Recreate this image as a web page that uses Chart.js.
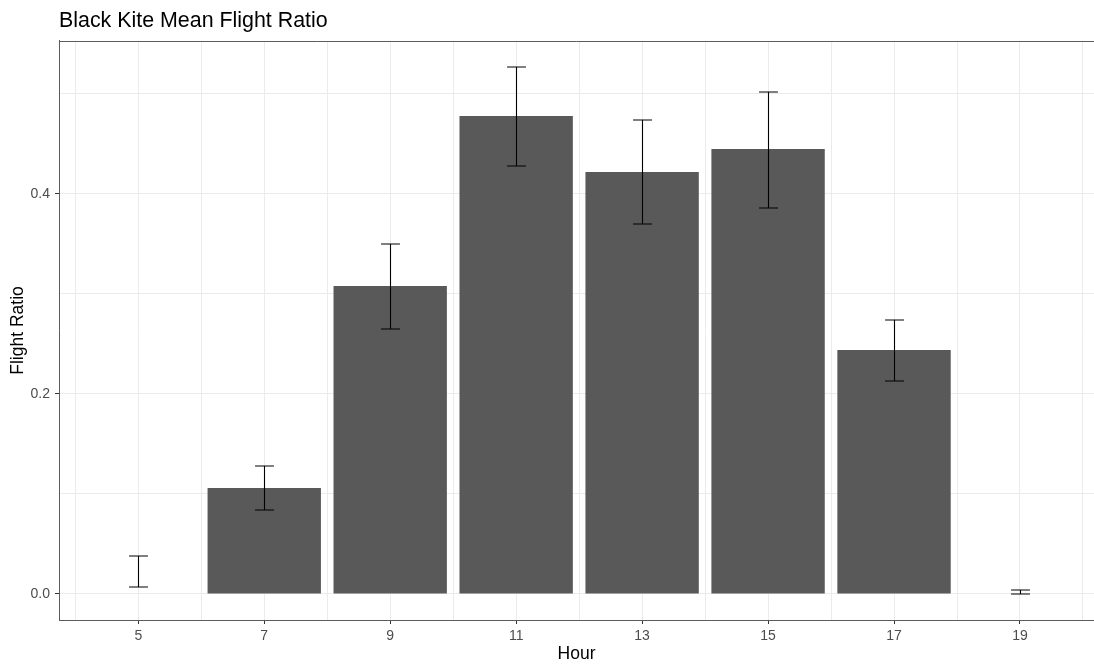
<!DOCTYPE html>
<html>
<head>
<meta charset="utf-8">
<script src="https://cdn.jsdelivr.net/npm/chart.js@4"></script>
<style>
  html, body { margin: 0; padding: 0; background: #ffffff; }
</style>
</head>
<body>
<canvas id="chart" width="1094" height="665"></canvas>
<script>
// data
const hours = [5, 7, 9, 11, 13, 15, 17, 19];
const meanRatio = [0, 0.106, 0.308, 0.478, 0.422, 0.445, 0.244, 0];
const errLow = [0.007, 0.084, 0.265, 0.428, 0.370, 0.386, 0.213, 0.000];
const errHigh = [0.038, 0.128, 0.350, 0.527, 0.474, 0.502, 0.274, 0.004];
const yTickLabels = ['0.0', '0.2', '0.4'];

const FONT = "'Liberation Sans', Arial, sans-serif";
const GRID = '#ebebeb';
const BORDER = '#5c5c5c';

// error bars + top panel border
const errorBarPlugin = {
    id: 'errorBars',
    afterDatasetsDraw(chart) {
        const ctx = chart.ctx;
        const xs = chart.scales.x;
        const ys = chart.scales.y;
        const capHalf = (xs.getPixelForValue(0.15) - xs.getPixelForValue(0));
        ctx.save();
        ctx.strokeStyle = '#000000';
        ctx.lineWidth = 1.1;
        hours.forEach((h, i) => {
            const x = Math.round(xs.getPixelForValue(h)) + 0.5;
            const y1 = ys.getPixelForValue(errLow[i]);
            const y2 = ys.getPixelForValue(errHigh[i]);
            ctx.beginPath();
            ctx.moveTo(x, y1);
            ctx.lineTo(x, y2);
            ctx.moveTo(x - capHalf, y1);
            ctx.lineTo(x + capHalf, y1);
            ctx.moveTo(x - capHalf, y2);
            ctx.lineTo(x + capHalf, y2);
            ctx.stroke();
        });
        ctx.restore();
    },
    afterDraw(chart) {
        const a = chart.chartArea;
        const ctx = chart.ctx;
        ctx.save();
        ctx.strokeStyle = BORDER;
        ctx.lineWidth = 1;
        ctx.beginPath();
        ctx.moveTo(a.left, Math.round(a.top) + 0.5);
        ctx.lineTo(a.right, Math.round(a.top) + 0.5);
        ctx.stroke();
        ctx.restore();
    }
};

new Chart(document.getElementById('chart'), {
    type: 'bar',
    data: {
        datasets: [{
            label: 'Flight Ratio',
            data: hours.map((h, i) => ({ x: h, y: meanRatio[i] })),
            backgroundColor: '#595959',
            borderWidth: 0,
            // ruler spacing is one hour (tick step), bars are 1.8 hours wide
            categoryPercentage: 1,
            barPercentage: 1.8
        }]
    },
    options: {
        responsive: false,
        animation: false,
        layout: { padding: 0 },
        plugins: {
            legend: { display: false },
            tooltip: { enabled: false },
            title: {
                display: true,
                text: 'Black Kite Mean Flight Ratio',
                align: 'start',
                fullSize: false,
                color: '#000000',
                font: { family: FONT, size: 21.4, weight: 'normal' },
                padding: { top: 8.2, bottom: 7.1 }
            }
        },
        scales: {
            x: {
                type: 'linear',
                min: 3.741,
                max: 20.175,
                offset: false,
                afterFit(scale) { scale.height = 45; },
                grid: {
                    offset: false,
                    color: GRID,
                    lineWidth: 1,
                    tickLength: 4,
                    tickColor: c => (c.tick && Math.round(c.tick.value) % 2 === 1) ? '#333333' : 'rgba(0,0,0,0)'
                },
                border: { display: true, color: BORDER, width: 1 },
                ticks: {
                    stepSize: 1,
                    includeBounds: false,
                    autoSkip: false,
                    maxRotation: 0,
                    padding: 3.5,
                    color: '#4d4d4d',
                    font: { family: FONT, size: 14 },
                    callback: v => (Math.round(v) % 2 === 1 ? String(Math.round(v)) : '')
                },
                title: {
                    display: true,
                    text: 'Hour',
                    color: '#000000',
                    font: { family: FONT, size: 17.5 },
                    padding: { top: 0, bottom: 0 }
                }
            },
            y: {
                min: -0.026,
                max: 0.553,
                afterFit(scale) { scale.width = 59; },
                grid: {
                    color: GRID,
                    lineWidth: 1,
                    tickLength: 4,
                    tickColor: c => (c.tick && Math.round(c.tick.value * 10) % 2 === 0) ? '#333333' : 'rgba(0,0,0,0)'
                },
                border: { display: true, color: BORDER, width: 1 },
                ticks: {
                    stepSize: 0.1,
                    includeBounds: false,
                    padding: 5,
                    color: '#4d4d4d',
                    font: { family: FONT, size: 14 },
                    callback: v => {
                        const k = Math.round(v * 10);
                        return k % 2 === 0 ? (yTickLabels[k / 2] || '') : '';
                    }
                },
                title: {
                    display: true,
                    text: 'Flight Ratio',
                    color: '#000000',
                    font: { family: FONT, size: 17.5 },
                    padding: { top: 7.5, bottom: 0 }
                }
            }
        }
    },
    plugins: [errorBarPlugin]
});
</script>
</body>
</html>
